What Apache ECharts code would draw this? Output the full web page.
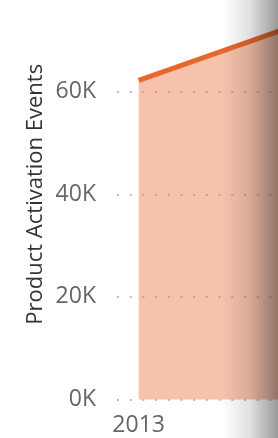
<!DOCTYPE html>
<html>
<head>
<meta charset="utf-8">
<style>
  html, body { margin: 0; padding: 0; overflow: hidden; background: #fff; }
  #chart { width: 700px; height: 438px; }
</style>
<script src="https://cdn.jsdelivr.net/npm/echarts@6/dist/echarts.min.js"></script>
</head>
<body>
<div id="chart"></div>
<script>
// data (only 2013 and the start of the next segment are visible)
const years = [2013, 2014];
const activations = [62200, 77000];
const yTicks = [0, 20000, 40000, 60000];

const seriesData = years.map((y, i) => [y, activations[i]]);

const myChart = echarts.init(document.getElementById("chart"), null, { renderer: "canvas" });

myChart.setOption({
  animation: false,
  grid: {
    left: 117,
    top: -11,
    width: 260,
    height: 410.5,
    outerBoundsMode: "none",
    containLabel: false
  },
  xAxis: {
    type: "value",
    min: 2012.9,
    max: 2014.1,
    axisLine: { show: false },
    axisTick: { show: false },
    splitLine: { show: false },
    axisLabel: {
      customValues: years,
      formatter: v => String(v),
      margin: 14,
      color: "#666",
      fontFamily: "Open Sans",
      fontSize: 23
    }
  },
  yAxis: {
    type: "value",
    min: 0,
    max: 80000,
    interval: 20000,
    name: "Product Activation Events",
    nameLocation: "middle",
    nameGap: 70,
    nameTextStyle: {
      color: "#333",
      fontFamily: "Open Sans",
      fontSize: 22
    },
    axisLine: { show: false },
    axisTick: { show: false },
    axisLabel: {
      margin: 21,
      color: "#666",
      fontFamily: "Open Sans",
      fontSize: 23,
      formatter: v => (yTicks.includes(v) ? v / 1000 + "K" : "")
    },
    splitLine: {
      showMaxLine: false,
      lineStyle: {
        color: "#bdbdbd",
        width: 2,
        type: [2, 10.7]
      }
    }
  },
  series: [
    {
      type: "line",
      data: seriesData,
      showSymbol: false,
      lineStyle: { color: "#e8672f", width: 5 },
      areaStyle: { color: "#e8672f", opacity: 0.4 }
    }
  ],
  graphic: [
    {
      // shadow over the right edge
      type: "rect",
      left: 222,
      top: 0,
      shape: { width: 56, height: 438 },
      silent: true,
      z: 100,
      style: {
        fill: new echarts.graphic.LinearGradient(0, 0, 1, 0, [
          { offset: 0, color: "rgba(0,0,0,0)" },
          { offset: 0.5, color: "rgba(0,0,0,0.12)" },
          { offset: 1, color: "rgba(0,0,0,0.4)" }
        ])
      }
    }
  ]
});
</script>
</body>
</html>
